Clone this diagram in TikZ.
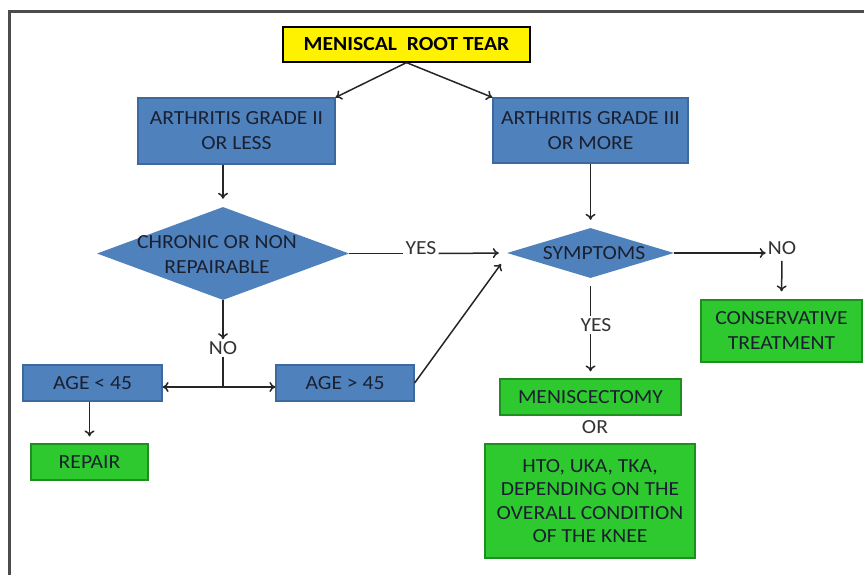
\documentclass[tikz,border=0pt]{standalone}
\usepackage{fontspec}
\setmainfont{Carlito}[FakeStretch=1.08]
\usetikzlibrary{arrows,arrows.meta}
\usetikzlibrary{shapes.geometric,calc}

\definecolor{boxblue}{HTML}{4F81BD}
\definecolor{edgeblue}{HTML}{3C6A9E}
\definecolor{boxgreen}{HTML}{2EC92E}
\definecolor{edgegreen}{HTML}{1E8F1E}
\definecolor{txt}{HTML}{1A2030}

\begin{document}
\begin{tikzpicture}[x=1pt,y=-1pt,>={To[length=6pt,width=10pt]},
  bluebox/.style={draw=edgeblue,fill=boxblue,line width=1.2pt,inner sep=0pt,align=center,text=txt},
  greenbox/.style={draw=edgegreen,fill=boxgreen,line width=1.2pt,inner sep=0pt,align=center,text=txt},
  bluediam/.style={diamond,draw=none,fill=boxblue,inner sep=0pt},
  lbl/.style={inner sep=2pt,text=black!80},
  conn/.style={line width=1.5pt,black!85},
  font=\fontsize{20}{25}\selectfont]

  \useasboundingbox (0,0) rectangle (864,575);
  \draw[line width=3pt,black!70] (9,12) rectangle (880,590);

  \pgfmathsetmacro{\gap}{8}

  \node (tear) [draw=black,fill=yellow,line width=1.2pt,minimum width=247,minimum height=35,inner sep=0pt,font=\fontsize{20}{25}\selectfont\bfseries] at (406.5,44.5) {MENISCAL\ \ ROOT TEAR};

  \node (grade2) [bluebox,minimum width=197,minimum height=66] at (236.5,131) {ARTHRITIS GRADE II\\OR LESS};
  \node (grade3) [bluebox,minimum width=195,minimum height=65] at (590.5,130.5) {ARTHRITIS GRADE III\\OR MORE};

  \node (chronic) [bluediam,minimum width=252,minimum height=93] at (223,253.5) {};
  \node (chronictxt) [inner sep=0pt,align=center,text=txt] at (217,255) {CHRONIC OR NON\\REPAIRABLE};

  \node (symptoms) [bluediam,minimum width=167,minimum height=50] at (590.5,253) {};
  \node (symptomstxt) [inner sep=0pt,text=txt] at (594,253) {SYMPTOMS};

  \node (yes1) [lbl] at (421,248) {YES};
  \node (no2) [lbl] at (782,248) {NO};
  \node (yes2) [lbl] at (596,325) {YES};
  \node (no1) [lbl] at (223,348) {NO};
  \node (orlbl) [lbl] at (595,427) {OR};

  \node (conserv) [greenbox,minimum width=161,minimum height=62] at (781.5,331) {CONSERVATIVE\\TREATMENT};
  \node (menis) [greenbox,minimum width=181,minimum height=36] at (590.5,397) {MENISCECTOMY};
  \node (hto) [greenbox,minimum width=210,minimum height=114,font=\fontsize{20}{23.5}\selectfont] at (590,501) {HTO, UKA, TKA,\\DEPENDING ON THE\\OVERALL CONDITION\\OF THE KNEE};

  \node (ageless) [bluebox,minimum width=139,minimum height=36] at (92.5,383) {AGE < 45};
  \node (agemore) [bluebox,minimum width=138,minimum height=36] at (345,383) {AGE > 45};
  \node (repair) [greenbox,minimum width=117,minimum height=36] at (89.5,462) {REPAIR};

  \coordinate (split) at (223,387);
  \coordinate (symin) at (501,264);

  \draw[conn,->] (tear.south) -- (grade2.north east);
  \draw[conn,->] (tear.south) -- (grade3.north west);
  \draw[conn,->,shorten >=\gap] (grade2.south -| chronic.north) -- (chronic.north);
  \draw[conn,->,shorten >=\gap] (grade3.south) -- (symptoms.north);

  \draw[conn] (chronic.east) -- (yes1.west |- chronic.east);
  \draw[conn,->,shorten >=\gap] (yes1.east |- chronic.east) -- (symptoms.west);

  \draw[conn,->] (symptoms.east) -- (no2.west |- symptoms.east);
  \draw[conn,->,shorten <=4,shorten >=\gap] (no2.south) -- (conserv.north);

  \draw[conn,shorten <=\gap] (symptoms.south) -- (yes2.north -| symptoms.south);
  \draw[conn,->,shorten >=7] (yes2.south -| symptoms.south) -- (menis.north);

  \draw[conn,->] (chronic.south) -- (no1.north);
  \draw[conn] (no1.south) -- (split);
  \draw[conn,->] (split) -- (ageless.east |- split);
  \draw[conn,->] (split) -- (agemore.west |- split);

  \draw[conn,->] (agemore.east) -- (symin);
  \draw[conn,->,shorten >=7] (ageless.south -| repair.north) -- (repair.north);

\end{tikzpicture}
\end{document}
